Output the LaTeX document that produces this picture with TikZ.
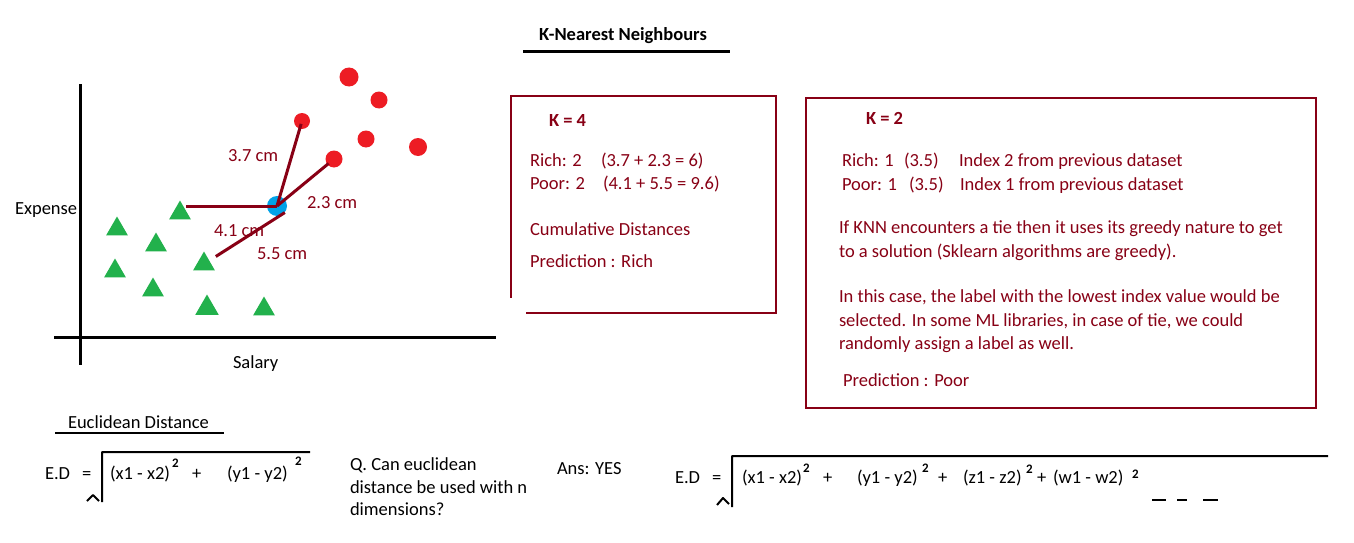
\documentclass[tikz,border=0pt]{standalone}
\usepackage{fontspec}
\setmainfont{Carlito}
\usetikzlibrary{shapes.geometric}
\definecolor{dred}{HTML}{880015}
\definecolor{pred}{HTML}{ED1C24}
\definecolor{pgreen}{HTML}{22B14C}
\definecolor{pblue}{HTML}{00A2E8}
\begin{document}
\begin{tikzpicture}[x=1pt,y=-1pt,
  txt/.style={font=\fontsize{18.5}{23}\selectfont, inner sep=0pt, outer sep=0pt, anchor=base west},
  rtxt/.style={txt, text=dred},
  btxt/.style={txt, font=\fontsize{18.5}{23}\selectfont\bfseries},
  sqr/.style={inner sep=0pt, anchor=base west, font=\fontsize{13}{13}\selectfont\bfseries},
  reddot/.style={circle, fill=pred, inner sep=0pt, minimum size=#1},
  tri/.style={regular polygon, regular polygon sides=3, fill=pgreen, inner sep=0pt, minimum size=#1},
  link/.style={draw=dred, line width=3pt},
  axis/.style={line width=3pt},
  frame/.style={draw=dred, line width=1.3pt},
  root/.style={line width=2pt, line join=round}
]
\fill[white] (0,0) rectangle (1354,543);
\useasboundingbox (0,0) rectangle (1354,543);

% title
\node[btxt, anchor=base] (title) at (623,41) {K-Nearest Neighbours};
\draw[line width=3pt] (523,52) -- (730,52);

% axes
\draw[axis] (80,84) -- (80,365);
\draw[axis] (54,337) -- (496,337);
\node[txt] (ylab) at (15,214) {Expense};
\node[txt] (xlab) at (233,368) {Salary};

% red points
\node[reddot=19pt] (r1) at (349,77) {};
\node[reddot=17pt] (r2) at (379,100) {};
\node[reddot=16pt] (r3) at (302,121) {};
\node[reddot=17pt] (r4) at (366,139) {};
\node[reddot=17pt] (r5) at (334,159) {};
\node[reddot=18pt] (r6) at (418,147) {};

% green triangles
\node[tri=25pt] (t1) at (180,213) {};
\node[tri=25pt] (t2) at (117,229) {};
\node[tri=25pt] (t3) at (156,245) {};
\node[tri=25pt] (t4) at (115,271) {};
\node[tri=25pt] (t5) at (204,264) {};
\node[tri=25pt] (t6) at (153,290) {};
\node[tri=27pt] (t7) at (207,308) {};
\node[tri=25pt] (t8) at (264,309) {};

% query point
\node[circle, fill=pblue, inner sep=0pt, minimum size=20pt] (q) at (277,206) {};

% distance links
\draw[link, shorten >=3pt] (q.center) -- (r3.center);
\draw[link, shorten >=7pt] (q.center) -- (r5.center);
\draw[link, shorten >=6pt] (q.center) -- (q.center -| t1.center);
\draw[link, shorten >=14pt] (q.-40) -- (t5.center);

\node[rtxt] (d1) at (228,161) {3.7 cm};
\node[rtxt] (d2) at (307,208) {2.3 cm};
\node[rtxt] (d3) at (214,236) {4.1 cm};
\node[rtxt] (d4) at (257,259) {5.5 cm};

% box K=4
\draw[frame] (526,313) -- (776,313) -- (776,96) -- (511,96) -- (511,298);
\node[btxt, text=dred] (k4) at (549,126) {K = 4};
\node[rtxt] (a1) at (530,166) {Rich: 2};
\node[rtxt] (a1b) at (601,166) {(3.7 + 2.3 = 6)};
\node[rtxt] (a2) at (530,189) {Poor: 2};
\node[rtxt] (a2b) at (603,189) {(4.1 + 5.5 = 9.6)};
\node[rtxt] (a3) at (530,235) {Cumulative Distances};
\node[rtxt] (a4) at (530,267) {Prediction : Rich};

% box K=2
\draw[frame] (806,98) rectangle (1316,408);
\node[btxt, text=dred] (k2) at (866,124) {K = 2};
\node[rtxt] (b1) at (842,166) {Rich: 1};
\node[rtxt] (b1b) at (904,166) {(3.5)};
\node[rtxt] (b1c) at (959,166) {Index 2 from previous dataset};
\node[rtxt] (b2) at (842,190) {Poor: 1};
\node[rtxt] (b2b) at (909,190) {(3.5)};
\node[rtxt] (b2c) at (960,190) {Index 1 from previous dataset};
\node[rtxt] (b3) at (839,233) {If KNN encounters a tie then it uses its greedy nature to get};
\node[rtxt] (b4) at (839,257) {to a solution (Sklearn algorithms are greedy).};
\node[rtxt] (b5) at (839,302) {In this case, the label with the lowest index value would be};
\node[rtxt] (b6) at (839,326) {selected. In some ML libraries, in case of tie, we could};
\node[rtxt] (b7) at (839,349) {randomly assign a label as well.};
\node[rtxt] (b8) at (843,386) {Prediction : Poor};

% Euclidean distance
\node[txt] (eu) at (68,428) {Euclidean Distance};
\draw[line width=2pt] (55,433) -- (224,433);

\node[txt] (ed1) at (45,479) {E.D};
\node[txt] (eq1) at (82,479) {=};
\draw[root] (87,501) -- (93,495) -- (99,501) (102,502) -- (102,452) -- (310,452);
\node[txt] (f1a) at (110,479) {(x1 - x2)};
\node[sqr] (s1a) at (172,467) {2};
\node[txt] (p1a) at (192,479) {+};
\node[txt] (f1b) at (227,479) {(y1 - y2)};
\node[sqr] (s1b) at (295,465) {2};

\node[txt] (qq1) at (350,470) {Q. Can euclidean};
\node[txt] (qq2) at (350,493) {distance be used with n};
\node[txt] (qq3) at (350,515) {dimensions?};
\node[txt] (ans) at (557,474) {Ans: YES};

\node[txt] (ed2) at (675,483) {E.D};
\node[txt] (eq2) at (712,483) {=};
\draw[root] (717,505) -- (723,498) -- (729,504) (732,507) -- (732,456) -- (1328,456);
\node[txt] (f2a) at (742,483) {(x1 - x2)};
\node[sqr] (s2a) at (803,472) {2};
\node[txt] (p2a) at (823,483) {+};
\node[txt] (f2b) at (857,483) {(y1 - y2)};
\node[sqr] (s2b) at (922,472) {2};
\node[txt] (p2b) at (938,483) {+};
\node[txt] (f2c) at (963,483) {(z1 - z2)};
\node[sqr] (s2c) at (1026,473) {2};
\node[txt] (p2c) at (1037,483) {+};
\node[txt] (f2d) at (1053,483) {(w1 - w2)};
\node[sqr] (s2d) at (1132,478) {2};
\draw[line width=2.5pt] (1152,500) -- (1166,500) (1177,500) -- (1187,500) (1203,500) -- (1218,500);
\end{tikzpicture}
\end{document}
